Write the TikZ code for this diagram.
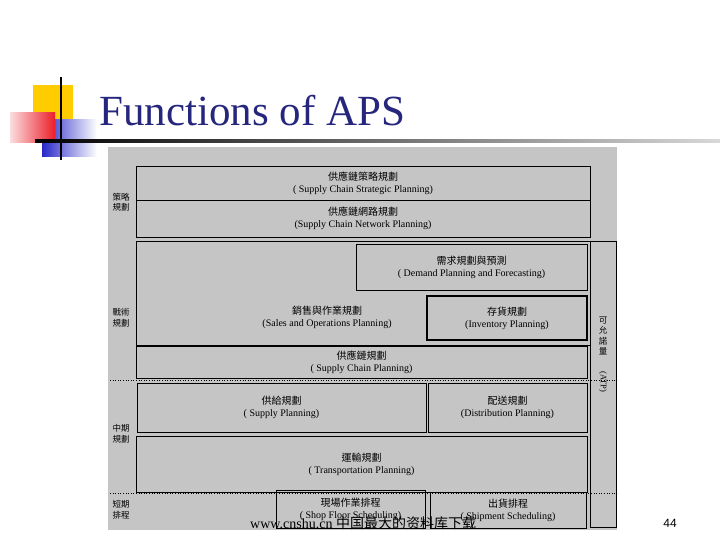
\documentclass[tikz,border=0pt]{standalone}
\usepackage{fontspec}
\setmainfont{Liberation Serif}
\setsansfont{Liberation Sans}
\newfontfamily\cjk{Noto Sans CJK TC}
\newfontfamily\cjksc{Noto Sans CJK SC}
\definecolor{scan}{RGB}{197,197,197}
\definecolor{titleblue}{RGB}{38,38,125}
\definecolor{deco-yellow}{RGB}{255,204,0}
\definecolor{deco-blue}{RGB}{40,40,200}
\definecolor{deco-red}{RGB}{235,30,40}
\begin{document}
\begin{tikzpicture}[x=1pt,y=-1pt,
  box/.style={draw=black, line width=0.9pt, inner sep=0pt, align=center, font=\fontsize{10}{12}\selectfont},
  thickbox/.style={box, line width=1.8pt},
  lbl/.style={align=center, font=\cjk\fontsize{8.5}{10.5}\selectfont, inner sep=0pt},
  dotline/.style={draw=black, dotted, line width=0.6pt}]
\useasboundingbox (0,0) rectangle (720,540);
% decoration
\fill[deco-yellow] (33,85) rectangle (73,122);
\shade[left color=deco-blue, right color=white] (42,120) rectangle (97,157);
\shade[left color=deco-red!15, right color=deco-red] (10,113) rectangle (55,143);
\draw[black, line width=2pt] (61,77) -- (61,160);
\shade[left color=black, right color=black!15] (35,139.5) rectangle (720,142.5);
\node[anchor=base west, text=titleblue, font=\fontsize{43}{47}\selectfont, inner sep=0pt] (title) at (99,126) {Functions of APS};
% scanned figure background
\fill[scan] (108,147) rectangle (617,530);
% boxes
\node[box, minimum width=454pt, minimum height=34pt] (strat) at (363,183) {{\cjk 供應鏈策略規劃}\\( Supply Chain Strategic Planning)};
\node[box, minimum width=454pt, minimum height=37pt] (net) at (363,218.5) {{\cjk 供應鏈網路規劃}\\(Supply Chain Network Planning)};
\node[box, minimum width=454pt, minimum height=104pt] (sop) at (363,293) {};
\node[box, draw=none] (soptxt) at (327,317) {{\cjk 銷售與作業規劃}\\(Sales and Operations Planning)};
\node[box, fill=scan, minimum width=231pt, minimum height=46pt] (demand) at (471.5,267) {{\cjk 需求規劃與預測}\\( Demand Planning and Forecasting)};
\node[thickbox, minimum width=160pt, minimum height=44pt] (inv) at (507,318) {{\cjk 存貨規劃}\\(Inventory Planning)};
\node[box, minimum width=451pt, minimum height=32pt] (scp) at (361.5,362) {{\cjk 供應鏈規劃}\\( Supply Chain Planning)};
\node[box, minimum width=289pt, minimum height=49pt] (supply) at (281.5,407.5) {{\cjk 供給規劃}\\( Supply Planning)};
\node[box, minimum width=159pt, minimum height=49pt] (dist) at (507.5,407.5) {{\cjk 配送規劃}\\(Distribution Planning)};
\node[box, minimum width=451pt, minimum height=56pt] (trans) at (361.5,464) {{\cjk 運輸規劃}\\( Transportation Planning)};
\node[box, minimum width=149pt, minimum height=38pt] (shop) at (350.5,509) {{\cjk 現場作業排程}\\( Shop Floor Scheduling)};
\node[box, minimum width=156pt, minimum height=36pt] (ship) at (508,510) {{\cjk 出貨排程}\\( Shipment Scheduling)};
\node[box, minimum width=26pt, minimum height=286pt] (atp) at (603,384) {};
\node[lbl] (atpcjk) at (603,336) {可\\允\\諾\\量};
\node[lbl, font=\fontsize{8.5}{10}\selectfont, rotate=-90] (atptxt) at (603,382) {(ATP)};
% dotted separators
\coordinate (d1l) at (110,380); \coordinate (d1r) at (617,380);
\coordinate (d2l) at (110,493); \coordinate (d2r) at (617,493);
\draw[dotline] (d1l) -- (d1r);
\draw[dotline] (d2l) -- (d2r);
% left level labels
\node[lbl] (l1) at (121,202) {策略\\規劃};
\node[lbl] (l2) at (121,318) {戰術\\規劃};
\node[lbl] (l3) at (121,434) {中期\\規劃};
\node[lbl] (l4) at (121,510) {短期\\排程};
% watermark and page number
\node[anchor=base west, inner sep=0pt, font=\fontsize{14}{16}\selectfont] (wm) at (250,528) {www.cnshu.cn {\cjksc 中国最大的资料库下载}};
\node[anchor=base, inner sep=0pt, font=\sffamily\fontsize{12}{14}\selectfont] (pg) at (670,527) {44};
\end{tikzpicture}
\end{document}
